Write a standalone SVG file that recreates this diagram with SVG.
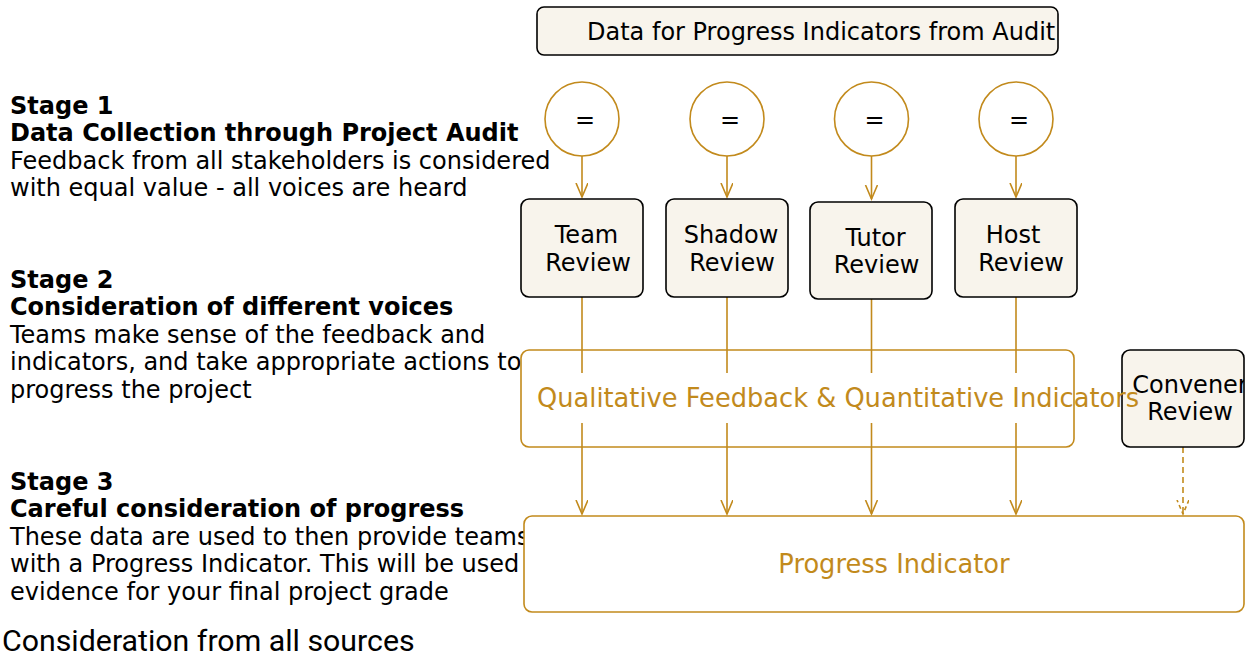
<svg xmlns="http://www.w3.org/2000/svg" width="1255" height="658" viewBox="0 0 1255 658">
  <style>
    .t{font-family:"DejaVu Sans",sans-serif;font-size:24px;fill:#000}
    .b{font-weight:bold}
    .lbl{font-family:"DejaVu Sans",sans-serif;font-size:25.7px;fill:#C28A1C}
    .rev{fill:#F8F4EC;stroke:#000;stroke-width:1.6}
    .gold{fill:none;stroke:#C28A1C;stroke-width:1.6}
    .edge{fill:none;stroke:#C28A1C;stroke-width:1.6}
    .dash{stroke-dasharray:6 4}
    .cap{font-family:Roboto,"Liberation Sans",sans-serif;font-size:30.3px;fill:#000}
  </style>
  <defs>
    <marker id="arrow" markerUnits="userSpaceOnUse" markerWidth="16" markerHeight="14" refX="14" refY="6" orient="auto">
      <path d="M0,0 L14,6 L0,12" fill="none" stroke="#C28A1C" stroke-width="1.6"/>
    </marker>
    <marker id="arrowDash" markerUnits="userSpaceOnUse" markerWidth="16" markerHeight="14" refX="14" refY="6" orient="auto">
      <path d="M0,0 L14,6 L0,12" fill="none" stroke="#C28A1C" stroke-width="1.6" stroke-dasharray="4 3"/>
    </marker>
    <clipPath id="convClip">
      <rect x="1122" y="350" width="122" height="97" rx="8"/>
    </clipPath>
  </defs>

  <rect width="1255" height="658" fill="#fff"/>

  <!-- stage descriptions -->
  <g id="stage-notes" class="t">
    <text x="10" y="113.5" class="b">Stage 1</text>
    <text x="10" y="141" class="b">Data Collection through Project Audit</text>
    <text x="10" y="168.5">Feedback from all stakeholders is considered</text>
    <text x="10" y="196">with equal value - all voices are heard</text>

    <text x="10" y="287.5" class="b">Stage 2</text>
    <text x="10" y="315" class="b">Consideration of different voices</text>
    <text x="10" y="342.5">Teams make sense of the feedback and</text>
    <text x="10" y="370">indicators, and take appropriate actions to</text>
    <text x="10" y="397.5">progress the project</text>

    <text x="10" y="489.5" class="b">Stage 3</text>
    <text x="10" y="517" class="b">Careful consideration of progress</text>
    <text x="10" y="544.5">These data are used to then provide teams</text>
    <text x="10" y="572">with a Progress Indicator. This will be used</text>
    <text x="10" y="599.5">evidence for your final project grade</text>
  </g>

  <text id="caption" class="cap" x="2" y="651">Consideration from all sources</text>

  <!-- connectors -->
  <g id="connectors">
    <line class="edge" x1="582" y1="156" x2="582" y2="197" marker-end="url(#arrow)"/>
    <line class="edge" x1="727" y1="156" x2="727" y2="197" marker-end="url(#arrow)"/>
    <line class="edge" x1="871.5" y1="156" x2="871.5" y2="199" marker-end="url(#arrow)"/>
    <line class="edge" x1="1016" y1="156" x2="1016" y2="197" marker-end="url(#arrow)"/>

    <line class="edge" x1="582" y1="297" x2="582" y2="514" marker-end="url(#arrow)"/>
    <line class="edge" x1="727" y1="297" x2="727" y2="514" marker-end="url(#arrow)"/>
    <line class="edge" x1="871.5" y1="299" x2="871.5" y2="514" marker-end="url(#arrow)"/>
    <line class="edge" x1="1016" y1="297" x2="1016" y2="514" marker-end="url(#arrow)"/>

    <line class="edge dash" x1="1183" y1="447" x2="1183" y2="514" marker-end="url(#arrowDash)"/>
  </g>

  <!-- source box -->
  <g id="audit-data">
    <rect class="rev" x="537" y="7" width="521" height="48" rx="7"/>
    <text class="t" x="587" y="40">Data for Progress Indicators from Audit</text>
  </g>

  <!-- equality markers -->
  <g id="eq-1"><circle class="gold" cx="582" cy="119" r="37"/><text class="t" x="585" y="128" text-anchor="middle">=</text></g>
  <g id="eq-2"><circle class="gold" cx="727" cy="119" r="37"/><text class="t" x="730" y="128" text-anchor="middle">=</text></g>
  <g id="eq-3"><circle class="gold" cx="871.5" cy="119" r="37"/><text class="t" x="874.5" y="128" text-anchor="middle">=</text></g>
  <g id="eq-4"><circle class="gold" cx="1016" cy="119" r="37"/><text class="t" x="1019" y="128" text-anchor="middle">=</text></g>

  <!-- review nodes -->
  <g id="team-review">
    <rect class="rev" x="521" y="199" width="122" height="98" rx="8"/>
    <text class="t" text-anchor="middle"><tspan x="586.5" y="243">Team</tspan><tspan x="588" y="271">Review</tspan></text>
  </g>
  <g id="shadow-review">
    <rect class="rev" x="666" y="199" width="122" height="98" rx="8"/>
    <text class="t" text-anchor="middle"><tspan x="731" y="243">Shadow</tspan><tspan x="732" y="271">Review</tspan></text>
  </g>
  <g id="tutor-review">
    <rect class="rev" x="810" y="202" width="122" height="97" rx="8"/>
    <text class="t" text-anchor="middle"><tspan x="875.5" y="246">Tutor</tspan><tspan x="876.5" y="273">Review</tspan></text>
  </g>
  <g id="host-review">
    <rect class="rev" x="955" y="199" width="122" height="98" rx="8"/>
    <text class="t" text-anchor="middle"><tspan x="1013" y="243">Host</tspan><tspan x="1021" y="271">Review</tspan></text>
  </g>

  <g id="convener-review">
    <rect class="rev" x="1122" y="350" width="122" height="97" rx="8"/>
    <text class="t" text-anchor="middle" clip-path="url(#convClip)"><tspan x="1190" y="393">Convener</tspan><tspan x="1190" y="420">Review</tspan></text>
  </g>

  <!-- combined feedback node -->
  <g id="feedback-indicators">
    <rect x="530" y="373" width="540" height="50" fill="#fff"/>
    <rect class="gold" x="521" y="350" width="553" height="97" rx="8"/>
    <text class="lbl" x="537" y="407">Qualitative Feedback &amp; Quantitative Indicators</text>
  </g>

  <!-- outcome node -->
  <g id="progress-indicator">
    <rect x="524" y="516" width="720" height="96" rx="8" fill="#fff" stroke="#C28A1C" stroke-width="1.6"/>
    <text class="lbl" x="894" y="573" text-anchor="middle">Progress Indicator</text>
  </g>
</svg>
